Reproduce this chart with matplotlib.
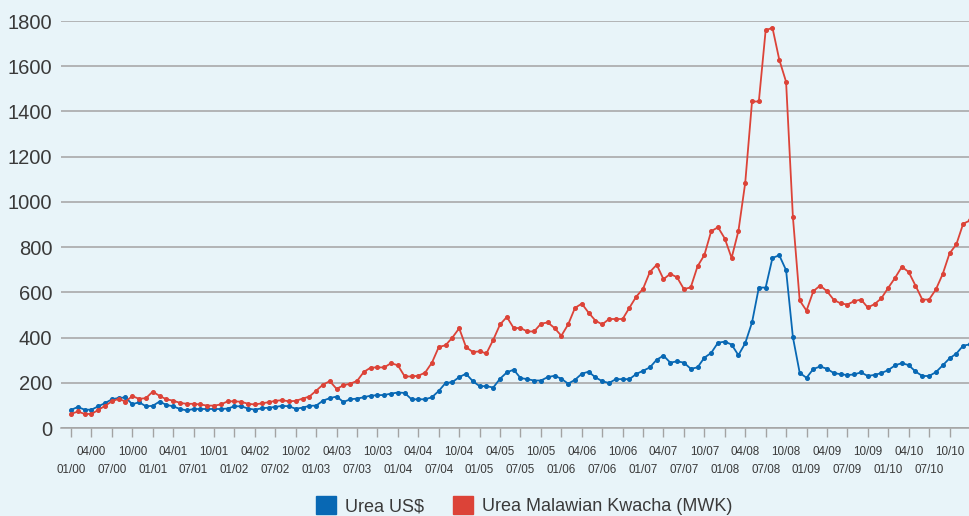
import numpy as np
import matplotlib
matplotlib.use('Agg')
import matplotlib.pyplot as plt
from matplotlib.patches import Patch

# monthly prices, 01/00 onwards
urea_usd = [80, 93, 81, 81, 96, 110, 127, 133, 135, 105, 114, 96,
            98, 117, 102, 96, 84, 78, 84, 84, 84, 84, 84, 86,
            96, 96, 86, 81, 87, 90, 93, 98, 96, 85, 90, 98,
            99, 121, 132, 139, 115, 127, 130, 136, 143, 145, 146, 152,
            157, 155, 127, 127, 127, 136, 164, 199, 203, 225, 240, 207,
            185, 185, 179, 218, 246, 258, 221, 216, 210, 210, 225, 231,
            218, 196, 213, 240, 249, 224, 207, 199, 216, 216, 216, 239,
            253, 268, 302, 320, 289, 295, 289, 262, 268, 311, 332, 377,
            382, 369, 322, 375, 467, 621, 621, 752, 764, 698, 402, 244,
            222, 261, 272, 262, 243, 238, 234, 237, 246, 230, 235, 243,
            256, 277, 287, 278, 250, 230, 230, 247, 277, 308, 329, 364,
            370]
urea_mwk = [62, 73, 62, 62, 80, 98, 118, 129, 117, 141, 129, 132,
            161, 142, 127, 121, 111, 107, 107, 104, 99, 99, 104, 118,
            118, 116, 107, 104, 109, 114, 120, 123, 118, 120, 130, 139,
            165, 192, 207, 173, 189, 196, 208, 248, 267, 268, 268, 287,
            277, 228, 228, 231, 245, 289, 358, 366, 400, 441, 358, 336,
            339, 330, 390, 458, 491, 442, 442, 427, 427, 461, 467, 442,
            408, 458, 531, 550, 510, 475, 458, 482, 482, 482, 532, 581,
            616, 690, 722, 658, 682, 666, 614, 622, 715, 765, 870, 888,
            838, 752, 871, 1084, 1444, 1444, 1759, 1770, 1629, 1531, 934, 564,
            519, 605, 630, 605, 567, 551, 546, 561, 568, 533, 548, 574,
            620, 664, 713, 690, 630, 568, 568, 613, 681, 772, 812, 903,
            918]
months = ['01', '04', '07', '10']
years = ['%02d' % y for y in range(0, 11)]
tick_labels = [m + '/' + y for y in years for m in months][:44]

bg = '#e8f4f9'
blue = '#0868b4'
red = '#dc4338'
txt = '#3a3a3a'
plt.rcParams['font.family'] = ['Liberation Sans', 'DejaVu Sans']

fig = plt.figure(figsize=(9.69, 5.16), dpi=100, facecolor=bg)
ax = fig.add_axes([61 / 969, 88 / 516, 1 - 61 / 969, 407 / 516], facecolor=bg)

x = np.arange(len(urea_usd))
ax.plot(x, urea_usd, color=blue, lw=1.3, marker='o', ms=2.6, zorder=3)
ax.plot(x, urea_mwk, color=red, lw=1.3, marker='o', ms=2.6, zorder=3)

ax.set_ylim(0, 1800)
ax.set_xlim(-1.47, 131.86)
ax.set_yticks(range(0, 1801, 200))
ax.yaxis.grid(True, color='#a3a3a3', lw=1.1)
ax.set_axisbelow(True)
for s in ['top', 'right', 'left']:
    ax.spines[s].set_visible(False)
ax.spines['bottom'].set_color('#a3a3a3')
ax.spines['bottom'].set_linewidth(1.1)

tick_pos = np.arange(len(tick_labels)) * 3
ax.set_xticks(tick_pos[0::2])
ax.set_xticklabels(tick_labels[0::2])
ax.set_xticks(tick_pos[1::2], minor=True)
ax.set_xticklabels(tick_labels[1::2], minor=True)
ax.tick_params(axis='x', which='major', length=6.3, width=1, color='#a3a3a3',
               pad=19.6, labelsize=8.4, labelcolor=txt)
ax.tick_params(axis='x', which='minor', length=6.3, width=1, color='#a3a3a3',
               pad=6.8, labelsize=8.4, labelcolor=txt)
ax.tick_params(axis='y', length=0, pad=6.2, labelsize=14.5, labelcolor=txt)

handles = [Patch(color=blue, label='Urea US$'),
           Patch(color=red, label='Urea Malawian Kwacha (MWK)')]
fig.legend(handles=handles, loc='center', bbox_to_anchor=(0.541, 0.02), ncol=2,
           frameon=False, fontsize=13, handlelength=1.1, handleheight=1.1,
           handletextpad=0.5, columnspacing=1.6, labelcolor=txt)

fig.savefig('out.png', dpi=100, facecolor=bg)
